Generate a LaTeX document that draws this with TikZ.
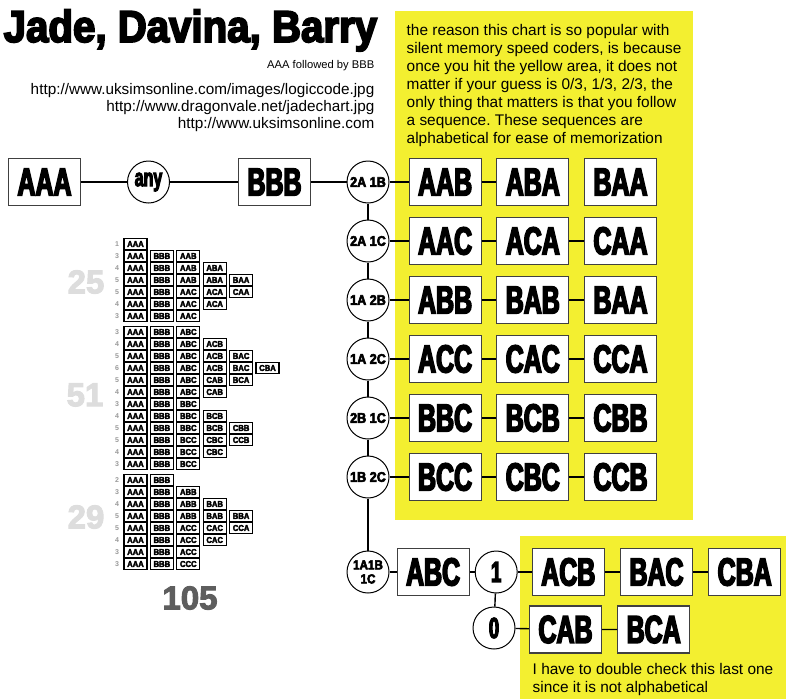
\documentclass[tikz,border=0pt]{standalone}
\usepackage{fontspec}
\setmainfont{Liberation Sans}
\newfontfamily\titlefont{Liberation Sans Bold}[FakeStretch=0.9,FakeBold=4]
\newfontfamily\heavyfont{Liberation Sans Bold}[FakeStretch=0.64,FakeBold=4]
\newfontfamily\blackfont{Liberation Sans Bold}[FakeBold=3]
\usetikzlibrary{positioning}
\definecolor{jadeYellow}{HTML}{F3EF30}
\definecolor{jadeGrey}{HTML}{DDDDDD}
\definecolor{jadeDark}{HTML}{5E5E5E}
\frenchspacing

\begin{document}
\begin{tikzpicture}[x=1pt,y=-1pt,line width=1.4pt,
    word/.style={draw=black!75,line width=1.2pt,fill=white,minimum width=72pt,minimum height=47pt,inner sep=0pt,font=\heavyfont\fontsize{39}{39}\selectfont},
    ring/.style={circle,draw,line width=1pt,fill=white,minimum size=42pt,inner sep=0pt,font=\titlefont\fontsize{14}{14}\selectfont},
    bigring/.style={ring,font=\heavyfont\fontsize{29}{29}\selectfont},
    chip/.style={draw,line width=1.1pt,minimum width=23pt,minimum height=11pt,inner sep=0pt,font=\titlefont\fontsize{8.5}{8.5}\selectfont},
    tally/.style={text=black!40,inner sep=0pt,font=\bfseries\fontsize{7}{7}\selectfont},
    total/.style={text=jadeGrey,inner sep=0pt,font=\blackfont\fontsize{33}{33}\selectfont},
    note/.style={anchor=north west,align=left,inner sep=0pt,font=\fontsize{15.4}{18}\selectfont}]
  \useasboundingbox (0,0) rectangle (786,699);
  % yellow areas
  \fill[jadeYellow] (395,11) rectangle (693,520);
  \fill[jadeYellow] (520,536) rectangle (786,699);

  % heading
  \node[anchor=base west,inner sep=0pt,font=\titlefont\fontsize{44.7}{44.7}\selectfont] (title) at (3,42) {Jade, Davina, Barry};
  \node[anchor=base east,inner sep=0pt,font=\fontsize{11.2}{11.2}\selectfont] (sub) at (375,68) {AAA followed by BBB};
  \node[anchor=base east,inner sep=0pt,font=\fontsize{15.3}{17}\selectfont] (url1) at (375,94) {http://www.uksimsonline.com/images/logiccode.jpg};
  \node[anchor=base east,inner sep=0pt,font=\fontsize{15.3}{17}\selectfont] (url2) at (375,111) {http://www.dragonvale.net/jadechart.jpg};
  \node[anchor=base east,inner sep=0pt,font=\fontsize{15.3}{17}\selectfont] (url3) at (375,128) {http://www.uksimsonline.com};
  \node[note] (why) at (406,23.7) {the reason this chart is so popular with\\silent memory speed coders, is because\\once you hit the yellow area, it does not\\matter if your guess is 0/3, 1/3, 2/3, the\\only thing that matters is that you follow\\a sequence. These sequences are\\alphabetical for ease of memorization};

  % first guesses
  \node[word] (aaa) at (44.5,182) {AAA};
  \node[ring,font=\heavyfont\fontsize{25}{25}\selectfont] (any) at (148.5,182) {any};
  \node[word] (bbb) at (274.5,182) {BBB};

  % yellow rows
  \foreach \y/\lab/\one/\two/\three [count=\i] in {182/2A 1B/AAB/ABA/BAA,241/2A 1C/AAC/ACA/CAA,300/1A 2B/ABB/BAB/BAA,359/1A 2C/ACC/CAC/CCA,418/2B 1C/BBC/BCB/CBB,477/1B 2C/BCC/CBC/CCB}{
    \node[ring] (c\i) at (368,\y) {\lab};
    \node[word,right=19pt of c\i] (c\i-1) {\one};
    \node[word,right=14.5pt of c\i-1] (c\i-2) {\two};
    \node[word,right=14.5pt of c\i-2] (c\i-3) {\three};
  }

  % last branch
  \node[ring,align=center,font=\titlefont\fontsize{13}{14}\selectfont] (c7) at (368,572) {1A1B\\1C};
  \node[word,right=7pt of c7] (abc) {ABC};
  \node[bigring,right=5pt of abc] (one) {1};
  \node[bigring] (zero) at (494,628) {0};
  \node[word,right=14pt of one] (acb) {ACB};
  \node[word,right=15pt of acb] (bac) {BAC};
  \node[word,right=15pt of bac] (cba) {CBA};
  \node[word] (cab) at (565.5,629.5) {CAB};
  \node[word,right=15pt of cab] (bca) {BCA};
  \node[note] (check) at (532,662.8) {I have to double check this last one\\since it is not alphabetical};

  \draw (aaa) -- (any) -- (bbb) -- (c1);
  \foreach \i in {1,...,6}
    \draw (c\i) -- (c\i-1) -- (c\i-2);
  \foreach \i in {2,...,6}
    \draw (c\i-2) -- (c\i-3);
  \foreach \a/\b in {c1/c2,c2/c3,c3/c4,c4/c5,c5/c6,c6/c7}
    \draw (\a) -- (\b);
  \draw (c7) -- (abc) -- (one) -- (acb) -- (bac) -- (cba);
  \draw (one) -- (zero) -- (cab) -- (bca);

  % tally of all sequences
  \foreach \y/\cnt/\ws in {244/1/{AAA},256/3/{AAA,BBB,AAB},268/4/{AAA,BBB,AAB,ABA},280/5/{AAA,BBB,AAB,ABA,BAA},292/5/{AAA,BBB,AAC,ACA,CAA},304/4/{AAA,BBB,AAC,ACA},316/3/{AAA,BBB,AAC},
      332/3/{AAA,BBB,ABC},344/4/{AAA,BBB,ABC,ACB},356/5/{AAA,BBB,ABC,ACB,BAC},368/6/{AAA,BBB,ABC,ACB,BAC,CBA},380/5/{AAA,BBB,ABC,CAB,BCA},392/4/{AAA,BBB,ABC,CAB},404/3/{AAA,BBB,BBC},416/4/{AAA,BBB,BBC,BCB},428/5/{AAA,BBB,BBC,BCB,CBB},440/5/{AAA,BBB,BCC,CBC,CCB},452/4/{AAA,BBB,BCC,CBC},464/3/{AAA,BBB,BCC},
      480/2/{AAA,BBB},492/3/{AAA,BBB,ABB},504/4/{AAA,BBB,ABB,BAB},516/5/{AAA,BBB,ABB,BAB,BBA},528/5/{AAA,BBB,ACC,CAC,CCA},540/4/{AAA,BBB,ACC,CAC},552/3/{AAA,BBB,ACC},564/3/{AAA,BBB,CCC}}{
    \node[tally] (t\y) at (117,\y) {\cnt};
    \foreach \w [count=\k] in \ws
      \node[chip] (m\y-\k) at ({135.5+26.4*(\k-1)},\y) {\w};
  }
  \node[total] (g25) at (86,282) {25};
  \node[total] (g51) at (85,395) {51};
  \node[total] (g29) at (86,517) {29};
  \node[total,text=jadeDark] (g105) at (190,598) {105};
\end{tikzpicture}
\end{document}
